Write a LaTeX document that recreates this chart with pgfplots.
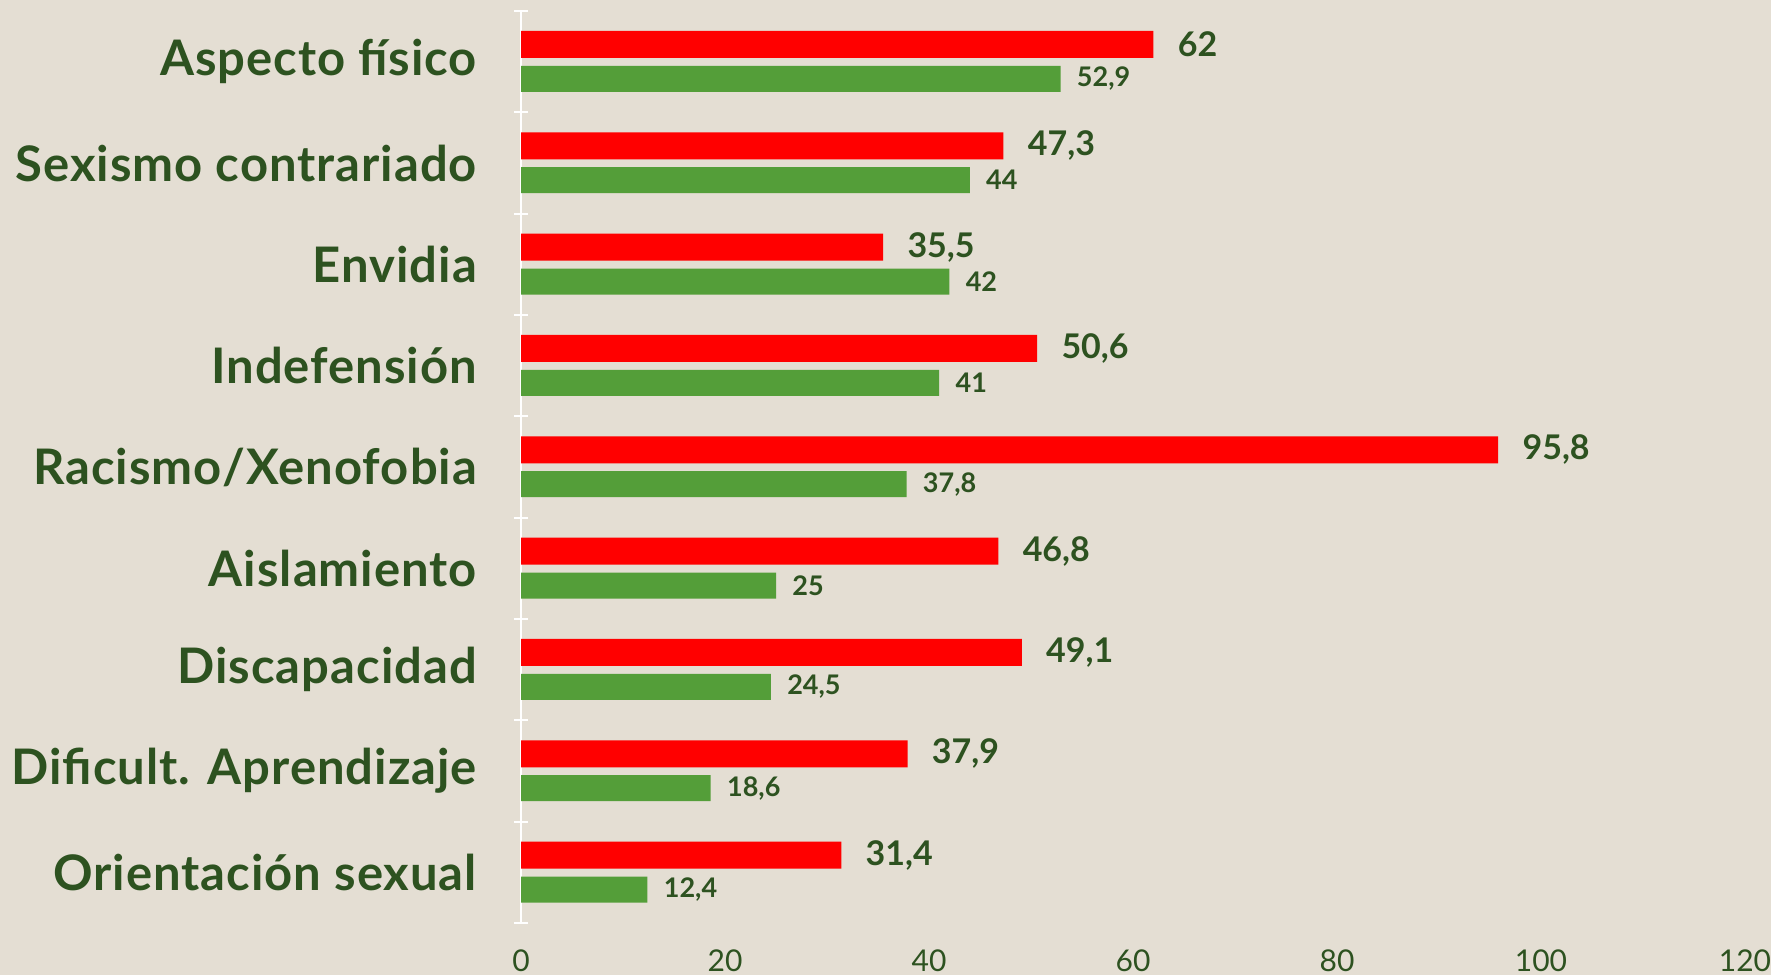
\documentclass[border=0pt]{standalone}
\usepackage{pgfplots}
\pgfplotsset{compat=1.18}
\usepackage{fontspec}
\setmainfont{Lato}
\newfontfamily\catfont[LetterSpace=2]{Lato}
\definecolor{bg}{HTML}{E4DED3}
\definecolor{txt}{HTML}{2D5220}
\definecolor{rbar}{HTML}{FF0000}
\definecolor{gbar}{HTML}{549E39}
\begin{document}
\begin{tikzpicture}
\path[use as bounding box, fill=bg] (0,0) rectangle (885.5pt,487.5pt);
\begin{axis}[
  at={(260.5pt,26pt)}, anchor=south west,
  scale only axis, width=612pt, height=456pt,
  xbar, clip=false,
  xmin=0, xmax=120, ymin=-0.5, ymax=8.5,
  xtick={0,20,...,120},
  ytick={0,...,8},
  yticklabels={Orientación sexual, Dificult. Aprendizaje, Discapacidad, Aislamiento, Racismo/Xenofobia, Indefensión, Envidia, Sexismo contrariado, Aspecto físico},
  minor ytick={-0.5,0.5,...,8.5},
  tick align=outside, major tick length=0pt, minor tick length=7pt,
  minor tick style={white, line width=1pt},
  ytick pos=left, xtick pos=bottom,
  axis lines=left,
  x axis line style={draw=none},
  y axis line style={white, line width=1pt, -},
  /pgf/number format/assume math mode=true,
  /pgf/number format/use comma,
  yticklabel style={font=\catfont\fontsize{24.5}{26}\selectfont\bfseries, text=txt, xshift=-18.5pt},
  xticklabel style={font=\fontsize{15}{17}\selectfont, text=txt, yshift=-10pt},
  nodes near coords,
]
\addplot[fill=rbar, draw=none, bar width=13.5pt, bar shift=8.6pt,
  nodes near coords style={font=\fontsize{17}{19}\selectfont\bfseries, text=txt, anchor=west, inner sep=0pt, xshift=12pt}]
  coordinates {(31.4,0) (37.9,1) (49.1,2) (46.8,3) (95.8,4) (50.6,5) (35.5,6) (47.3,7) (62,8)};
\addplot[fill=gbar, draw=none, bar width=13pt, bar shift=-8.6pt,
  nodes near coords style={font=\fontsize{13.5}{15}\selectfont\bfseries, text=txt, anchor=west, inner sep=0pt, xshift=8pt}]
  coordinates {(12.4,0) (18.6,1) (24.5,2) (25,3) (37.8,4) (41,5) (42,6) (44,7) (52.9,8)};
\end{axis}
\end{tikzpicture}
\end{document}
